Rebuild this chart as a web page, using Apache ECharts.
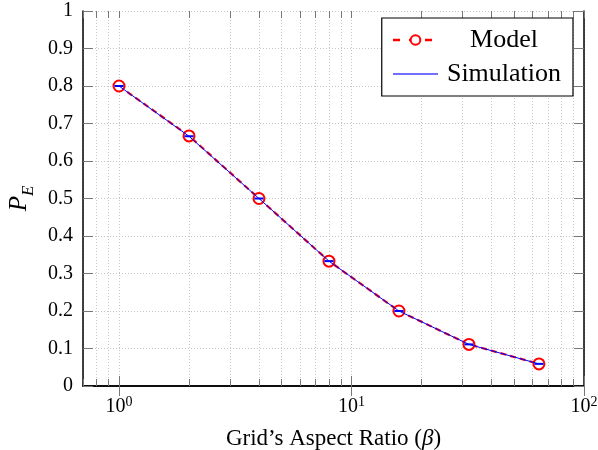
<!DOCTYPE html>
<html>
<head>
<meta charset="utf-8">
<script src="https://cdn.jsdelivr.net/npm/echarts@6/dist/echarts.min.js"></script>
<style>
  html, body { margin: 0; padding: 0; background: #fff; }
  #chart { width: 598px; height: 450px; }
</style>
</head>
<body>
<div id="chart"></div>
<script>
// data
const betaValues = [1, 2, 4, 8, 16, 32, 64]
const modelValues = [0.8, 0.667, 0.5, 0.333, 0.2, 0.111, 0.059]
const simulationValues = [0.8, 0.666, 0.5, 0.333, 0.2, 0.111, 0.059]
const majorTicks = [1, 10, 100]
const minorTicks = [0.7, 0.8, 0.9, 1, 2, 3, 4, 5, 6, 7, 8, 9, 10, 20, 30, 40, 50, 60, 70, 80, 90, 100]
const yTicks = [0, 0.1, 0.2, 0.3, 0.4, 0.5, 0.6, 0.7, 0.8, 0.9, 1]

const font = 'Liberation Serif'
const tickColor = '#777'
const gridLine = { show: true, lineStyle: { color: '#c4c4c4', width: 1, type: [1, 2] } }

const chart = echarts.init(document.getElementById('chart'))

const toPairs = (xs, ys) => xs.map((x, i) => [x, ys[i]])

const rect = { left: 83, right: 14, top: 11, bottom: 64, containLabel: false, outerBoundsMode: 'none' }

const option = {
  backgroundColor: '#fff',
  animation: false,
  textStyle: { fontFamily: font, color: '#000' },
  grid: [
    Object.assign({}, rect),
    Object.assign({}, rect)
  ],
  xAxis: [
    {
      // bottom axis: decades with labels
      type: 'log', gridIndex: 0, position: 'bottom', min: 0.7, max: 100,
      axisLine: { show: true, lineStyle: { color: '#000', width: 1.5 } },
      axisTick: { show: true, inside: true, length: 10, customValues: majorTicks, lineStyle: { color: tickColor } },
      axisLabel: {
        customValues: majorTicks, margin: 9, color: '#000', fontFamily: font,
        formatter: v => '{b|10}{s|' + Math.round(Math.log10(v)) + '}',
        rich: {
          b: { fontSize: 20, fontFamily: font, color: '#000', verticalAlign: 'bottom', lineHeight: 22 },
          s: { fontSize: 14, fontFamily: font, color: '#000', verticalAlign: 'top', lineHeight: 22 }
        }
      },
      splitLine: { show: false },
      name: '{n|Grid’s Aspect Ratio (}{i|β}{n|)}',
      nameLocation: 'middle', nameGap: 41,
      nameTextStyle: {
        rich: {
          n: { fontSize: 23, fontFamily: font, color: '#000' },
          i: { fontSize: 23, fontFamily: font, fontStyle: 'italic', color: '#000' }
        }
      }
    },
    {
      type: 'log', gridIndex: 0, position: 'top', min: 0.7, max: 100,
      axisLine: { show: true, lineStyle: { color: '#000', width: 1.5 } },
      axisTick: { show: true, inside: true, length: 10, customValues: majorTicks, lineStyle: { color: tickColor } },
      axisLabel: { show: false },
      splitLine: { show: false }
    },
    {
      // minor ticks + dotted grid
      type: 'log', gridIndex: 1, position: 'bottom', min: 0.7, max: 100,
      axisLine: { show: false },
      axisTick: { show: true, inside: true, length: 7, customValues: minorTicks, lineStyle: { color: tickColor } },
      axisLabel: { show: false },
      splitLine: gridLine
    },
    {
      type: 'log', gridIndex: 1, position: 'top', min: 0.7, max: 100,
      axisLine: { show: false },
      axisTick: { show: true, inside: true, length: 7, customValues: minorTicks, lineStyle: { color: tickColor } },
      axisLabel: { show: false },
      splitLine: { show: false }
    }
  ],
  yAxis: [
    {
      type: 'value', gridIndex: 0, position: 'left', min: 0, max: 1, interval: 0.1,
      axisLine: { show: true, lineStyle: { color: '#000', width: 1.5 } },
      axisTick: { show: true, inside: true, length: 10, customValues: yTicks, lineStyle: { color: tickColor } },
      axisLabel: {
        customValues: yTicks, margin: 10, fontSize: 20, fontFamily: font, color: '#000',
        formatter: v => String(+v.toFixed(1))
      },
      splitLine: gridLine,
      name: '{p|P}{e|E}',
      nameLocation: 'middle', nameGap: 46, nameRotate: 90,
      nameTextStyle: {
        rich: {
          p: { fontSize: 25, fontFamily: font, fontStyle: 'italic', color: '#000', verticalAlign: 'top', lineHeight: 30 },
          e: { fontSize: 17, fontFamily: font, fontStyle: 'italic', color: '#000', verticalAlign: 'bottom', lineHeight: 30 }
        }
      }
    },
    {
      type: 'value', gridIndex: 0, position: 'right', min: 0, max: 1, interval: 0.1,
      axisLine: { show: true, lineStyle: { color: '#000', width: 1.5 } },
      axisTick: { show: true, inside: true, length: 10, lineStyle: { color: tickColor } },
      axisLabel: { show: false },
      splitLine: { show: false }
    },
    {
      type: 'value', gridIndex: 1, min: 0, max: 1, show: false
    }
  ],
  legend: {
    orient: 'vertical',
    right: 25, top: 18,
    padding: [9, 8, 9, 10],
    backgroundColor: '#fff',
    borderColor: '#000',
    borderWidth: 1.2,
    borderRadius: 0,
    itemWidth: 45, itemHeight: 12, itemGap: 8,
    formatter: name => '{c|' + name + '}',
    textStyle: {
      rich: {
        c: { fontSize: 26, fontFamily: font, color: '#000', width: 122, align: 'center', lineHeight: 26 }
      }
    },
    data: [
      { name: 'Model', lineStyle: { type: [7, 9], width: 2.5 } },
      { name: 'Simulation', itemStyle: { opacity: 0 }, lineStyle: { color: '#7070ff', width: 2 } }
    ]
  },
  series: [
    {
      name: 'Model', type: 'line', xAxisIndex: 0, yAxisIndex: 0,
      data: toPairs(betaValues, modelValues),
      symbol: 'emptyCircle', symbolSize: 11,
      itemStyle: { color: '#ff0000', borderWidth: 3 },
      lineStyle: { color: '#ff0000', width: 2.2, type: [6, 4] },
      z: 3
    },
    {
      name: 'Simulation', type: 'line', xAxisIndex: 0, yAxisIndex: 0,
      data: toPairs(betaValues, simulationValues),
      symbol: 'rect', symbolSize: [9, 2],
      itemStyle: { color: '#0000ff' },
      lineStyle: { color: '#0000ff', width: 1 },
      z: 4
    }
  ]
}

chart.setOption(option)
</script>
</body>
</html>
